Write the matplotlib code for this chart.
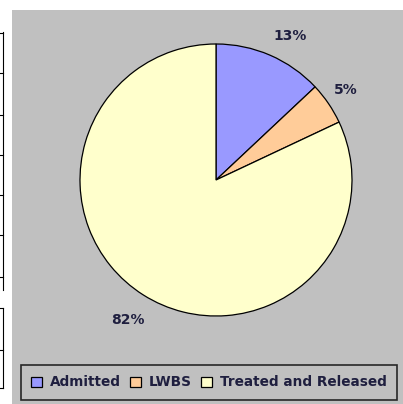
import matplotlib.pyplot as plt
from matplotlib.patches import Rectangle
from matplotlib.lines import Line2D

kategorier = ["Admitted", "LWBS", "Treated and Released"]
andelar = [13, 5, 82]
etiketter = ["13%", "5%", "82%"]
farger = ["#9999FF", "#FFCC99", "#FFFFCC"]

W, H = 403, 404
fig = plt.figure(figsize=(W / 100, H / 100), dpi=100)
fig.patch.set_facecolor("white")

# grå bakgrund för diagrammet
fig.add_artist(Rectangle((12 / W, 0), 1 - 12 / W, 394 / H, transform=fig.transFigure,
                         facecolor="#C0C0C0", edgecolor="none", zorder=0))

# rester av en annan tabell till vänster
def linje(x0, y0, x1, y1):
    fig.add_artist(Line2D([x0 / W, x1 / W], [1 - y0 / H, 1 - y1 / H],
                          transform=fig.transFigure, color="black", lw=0.8))

linje(3, 32, 3, 290)
for y in [33, 73, 115, 155, 195, 235, 277]:
    linje(0, y, 3, y)
for y in [308, 350, 388]:
    linje(0, y, 3, y)
linje(3, 308, 3, 388)

# pajen
ax = fig.add_axes([80 / W, 88 / H, 272 / W, 272 / H])
ax.set_facecolor("none")
patches, texts = ax.pie(andelar, colors=farger, startangle=90, counterclock=False,
                        wedgeprops={"edgecolor": "black", "linewidth": 0.9})
ax.set_xlim(-1, 1)
ax.set_ylim(-1, 1)
ax.set_aspect("equal")
ax.axis("off")

# procentetiketter
positioner = [(290, 36), (346, 90), (128, 320)]
for (x, y), t in zip(positioner, etiketter):
    fig.text(x / W, 1 - y / H, t, ha="center", va="center", fontsize=10,
             fontweight="bold", color="#1F1F3F")

leg = fig.legend(patches, kategorier, loc="center", bbox_to_anchor=(209 / W, 21.5 / H),
                 ncol=3, prop={"size": 9.8, "weight": "bold"}, frameon=True, fancybox=False,
                 handlelength=0.8, handleheight=0.8, handletextpad=0.55,
                 columnspacing=0.7, borderpad=0.75, borderaxespad=0)
leg.get_frame().set_facecolor("#C0C0C0")
leg.get_frame().set_edgecolor("black")
leg.get_frame().set_linewidth(1.2)
for t in leg.get_texts():
    t.set_color("#1F1F3F")

plt.savefig("out.png", dpi=100)
